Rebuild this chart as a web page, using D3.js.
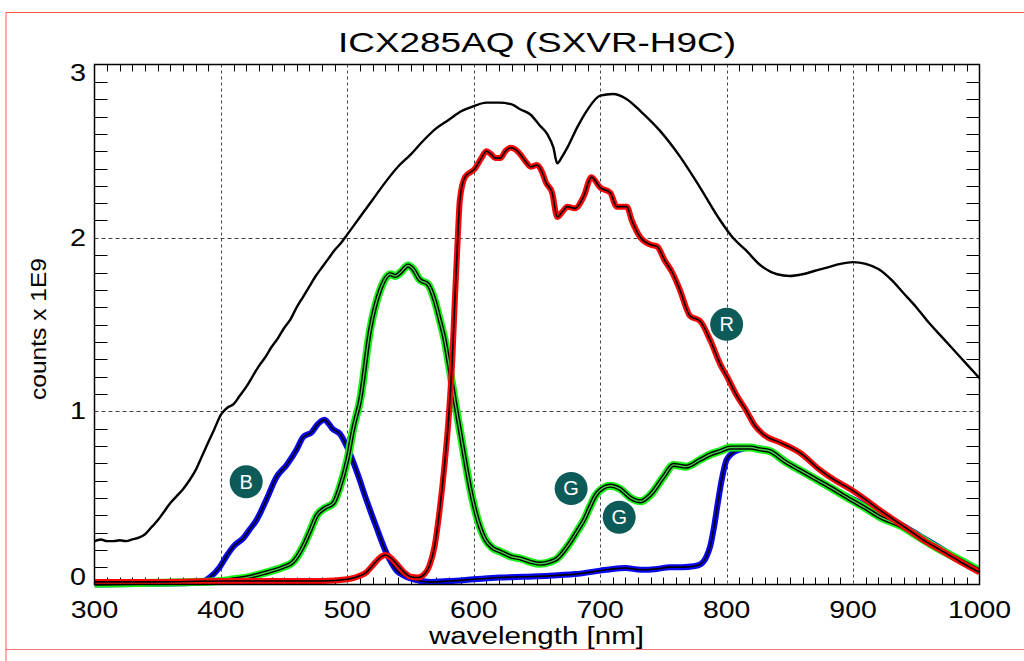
<!DOCTYPE html>
<html><head><meta charset="utf-8">
<script src="https://cdn.jsdelivr.net/npm/d3@7"></script>
<style>body{margin:0;background:#fff}svg{display:block}text{font-family:"Liberation Sans",Arial,sans-serif}</style>
</head><body><svg id="c" width="1024" height="661"></svg>
<script>
const titleText = "ICX285AQ (SXVR-H9C)";
const xTitle = "wavelength [nm]";
const yTitle = "counts x 1E9";
const xTicks = [300,400,500,600,700,800,900,1000];
const yTicks = [0,1,2,3];
const total = [[300,0.25],[305,0.26],[310,0.25],[315,0.25],[320,0.255],[325,0.25],[330,0.26],[335,0.27],[340,0.29],[345,0.33],[350,0.37],[355,0.42],[360,0.47],[365,0.51],[370,0.55],[375,0.60],[380,0.66],[385,0.74],[390,0.82],[395,0.90],[400,0.98],[405,1.02],[410,1.04],[415,1.09],[420,1.14],[425,1.20],[430,1.26],[435,1.31],[440,1.37],[445,1.42],[450,1.48],[455,1.53],[460,1.60],[465,1.66],[470,1.72],[475,1.78],[480,1.83],[485,1.88],[490,1.93],[495,1.97],[500,2.02],[510,2.12],[520,2.22],[530,2.32],[540,2.41],[550,2.48],[560,2.56],[570,2.63],[580,2.68],[590,2.73],[600,2.76],[610,2.78],[620,2.78],[630,2.77],[637,2.74],[645,2.71],[652,2.65],[658,2.60],[663,2.52],[666,2.43],[670,2.47],[674,2.52],[682,2.64],[690,2.74],[700,2.82],[710,2.83],[721,2.80],[732,2.73],[747,2.62],[763,2.47],[779,2.29],[795,2.10],[805,2.00],[815,1.93],[827,1.84],[840,1.79],[850,1.78],[860,1.79],[870,1.81],[880,1.83],[890,1.85],[900,1.86],[910,1.85],[920,1.82],[930,1.76],[940,1.68],[950,1.60],[960,1.51],[970,1.43],[980,1.35],[990,1.27],[1000,1.19]];
const blue = [[300,0.0],[350,0.005],[380,0.01],[385,0.015],[391,0.04],[399,0.10],[405,0.17],[410,0.22],[418,0.27],[423,0.32],[428,0.37],[436,0.49],[444,0.62],[452,0.69],[460,0.78],[465,0.85],[472,0.88],[476,0.92],[482,0.95],[485,0.93],[488,0.90],[494,0.87],[500,0.79],[508,0.64],[515,0.49],[523,0.33],[531,0.18],[539,0.08],[545,0.05],[550,0.035],[558,0.02],[566,0.015],[580,0.02],[600,0.03],[620,0.04],[640,0.045],[660,0.05],[680,0.06],[700,0.08],[710,0.09],[720,0.095],[732,0.085],[745,0.09],[755,0.10],[765,0.10],[774,0.105],[780,0.12],[784,0.16],[787,0.22],[790,0.33],[793,0.47],[796,0.60],[800,0.72],[805,0.76],[811,0.78],[819,0.79],[826,0.785],[834,0.77],[842,0.73],[850,0.69],[862,0.64],[874,0.59],[886,0.54],[898,0.50],[906,0.47],[920,0.41],[937,0.35],[953,0.28],[969,0.21],[985,0.14],[1000,0.08]];
const green = [[300,0.005],[350,0.01],[400,0.02],[410,0.03],[420,0.04],[436,0.07],[449,0.10],[457,0.13],[465,0.22],[470,0.30],[476,0.40],[482,0.44],[489,0.47],[494,0.56],[500,0.72],[505,0.91],[510,1.06],[518,1.47],[526,1.70],[534,1.79],[538,1.78],[542,1.80],[548,1.84],[552,1.82],[557,1.76],[564,1.73],[569,1.64],[573,1.53],[577,1.41],[581,1.24],[585,1.06],[589,0.89],[593,0.72],[597,0.56],[601,0.43],[605,0.33],[609,0.26],[615,0.21],[621,0.19],[630,0.16],[637,0.15],[645,0.13],[652,0.12],[660,0.13],[666,0.15],[671,0.19],[676,0.24],[682,0.31],[687,0.37],[692,0.45],[696,0.51],[703,0.56],[708,0.57],[716,0.55],[724,0.50],[732,0.48],[740,0.52],[750,0.62],[758,0.69],[768,0.68],[779,0.72],[787,0.75],[795,0.77],[803,0.79],[811,0.79],[819,0.79],[826,0.78],[834,0.77],[846,0.71],[858,0.66],[870,0.61],[882,0.56],[898,0.49],[910,0.44],[921,0.39],[937,0.34],[953,0.27],[969,0.20],[985,0.14],[1000,0.08]];
const red = [[300,0.015],[350,0.015],[400,0.02],[450,0.02],[480,0.02],[500,0.03],[510,0.05],[515,0.07],[520,0.11],[525,0.15],[530,0.17],[535,0.15],[540,0.11],[545,0.07],[550,0.045],[556,0.04],[561,0.06],[565,0.11],[569,0.22],[573,0.43],[577,0.70],[580,0.95],[583,1.30],[585,1.64],[587,1.95],[589,2.22],[593,2.35],[601,2.40],[606,2.46],[610,2.50],[614,2.48],[617,2.46],[621,2.46],[625,2.50],[629,2.52],[633,2.51],[637,2.48],[641,2.44],[645,2.41],[650,2.42],[654,2.38],[657,2.32],[662,2.26],[666,2.12],[670,2.15],[674,2.18],[680,2.17],[687,2.24],[693,2.35],[700,2.29],[708,2.26],[713,2.18],[721,2.18],[725,2.10],[732,2.00],[740,1.96],[745,1.95],[751,1.87],[757,1.80],[763,1.70],[771,1.55],[779,1.52],[787,1.41],[795,1.27],[801,1.19],[808,1.09],[815,1.01],[822,0.92],[830,0.86],[842,0.82],[858,0.76],[874,0.66],[886,0.60],[898,0.55],[910,0.49],[921,0.43],[933,0.37],[945,0.31],[957,0.25],[969,0.20],[985,0.13],[1000,0.07]];
const labels = [["B",420,0.593],["G",677,0.554],["G",715,0.388],["R",800,1.501]];

const svg = d3.select("#c");
const L=94.5, R=979.5, T=64.5, B=584.5;
const x = d3.scaleLinear().domain([300,1000]).range([L,R]);
const y = d3.scaleLinear().domain([0,3]).range([B,T]);

// red page frame lines
svg.append("line").attr("x1",6).attr("x2",1024).attr("y1",12.5).attr("y2",12.5).attr("stroke","#f55").attr("stroke-width",1.2);
svg.append("line").attr("x1",5).attr("x2",1024).attr("y1",649.5).attr("y2",649.5).attr("stroke","#f77").attr("stroke-width",1);
svg.append("line").attr("x1",6).attr("x2",6).attr("y1",12).attr("y2",661).attr("stroke","#f77").attr("stroke-width",1.2);

// grid
const gx = [400,500,600,700,800,900];
svg.selectAll(".gv").data(gx).join("line").attr("x1",d=>Math.round(x(d))+0.5).attr("x2",d=>Math.round(x(d))+0.5)
  .attr("y1",T).attr("y2",B).attr("stroke","#444").attr("stroke-dasharray","3,3").attr("stroke-width",1);
svg.selectAll(".gh").data([1,2]).join("line").attr("y1",d=>Math.round(y(d))+0.5).attr("y2",d=>Math.round(y(d))+0.5)
  .attr("x1",L).attr("x2",R).attr("stroke","#444").attr("stroke-dasharray","4,3").attr("stroke-width",1);

// minor ticks
const xm = d3.range(310,1000,10).filter(d=>d%100!==0);
const ym = d3.range(1,30).filter(d=>d%10!==0).map(d=>d/10);
const tk = svg.append("g").attr("stroke","#000").attr("stroke-width",1);
xm.forEach(d=>{
  const px=Math.round(x(d))+0.5;
  tk.append("line").attr("x1",px).attr("x2",px).attr("y1",B).attr("y2",B-7);
  tk.append("line").attr("x1",px).attr("x2",px).attr("y1",T).attr("y2",T+7);
});
ym.forEach(d=>{
  const py=Math.round(y(d))+0.5;
  tk.append("line").attr("x1",L).attr("x2",L+13).attr("y1",py).attr("y2",py);
  tk.append("line").attr("x1",R).attr("x2",R-13).attr("y1",py).attr("y2",py);
});

// curves
svg.append("clipPath").attr("id","pc").append("rect").attr("x",L).attr("y",T-5).attr("width",R-L).attr("height",B-T+10);
const line = d3.line().x(d=>x(d[0])).y(d=>y(d[1])).curve(d3.curveMonotoneX);
const g = svg.append("g").attr("clip-path","url(#pc)");
g.append("path").attr("d",line(total)).attr("fill","none").attr("stroke","#000").attr("stroke-width",2.4).attr("stroke-linejoin","round");
function band(data,col){
  g.append("path").attr("d",line(data)).attr("fill","none").attr("stroke",col).attr("stroke-width",6).attr("stroke-linejoin","round");
  g.append("path").attr("d",line(data)).attr("fill","none").attr("stroke","#000").attr("stroke-width",1.6).attr("stroke-linejoin","round");
}
band(blue,"#0808f0");
g.append("path").attr("d",line(green)).attr("fill","none").attr("stroke","#18f018").attr("stroke-width",8).attr("stroke-linejoin","round");
g.append("path").attr("d",line(green)).attr("fill","none").attr("stroke","#000").attr("stroke-width",4.2).attr("stroke-linejoin","round");
g.append("path").attr("d",line(green)).attr("fill","none").attr("stroke","#44cc44").attr("stroke-width",1.4).attr("stroke-linejoin","round");
band(red,"#f80808");

// frame
svg.append("rect").attr("x",L).attr("y",T).attr("width",R-L).attr("height",B-T).attr("fill","none").attr("stroke","#000").attr("stroke-width",1.5);

// labels
labels.forEach(([t,wl,v])=>{
  svg.append("circle").attr("cx",x(wl)).attr("cy",y(v)).attr("r",16.5).attr("fill","#0d5b59");
  svg.append("text").attr("x",x(wl)).attr("y",y(v)+7).attr("text-anchor","middle").attr("fill","#fff").attr("font-size",20).text(t);
});

// tick labels
xTicks.forEach(d=>{
  const s=String(d);
  svg.append("text").attr("x",x(d)).attr("y",618).attr("text-anchor","middle").attr("font-size",24)
    .attr("textLength",s.length*15.8).attr("lengthAdjust","spacingAndGlyphs").attr("fill","#000").text(s);
});
yTicks.forEach(d=>{
  const by=Math.max(T+16, Math.min(B+0.5, y(d)+8));
  svg.append("text").attr("x",86).attr("y",by).attr("text-anchor","end").attr("font-size",23)
    .attr("textLength",16).attr("lengthAdjust","spacingAndGlyphs").attr("fill","#000").text(String(d));
});

// titles
svg.append("text").attr("x",(L+R)/2).attr("y",52).attr("text-anchor","middle").attr("font-size",28)
  .attr("textLength",398).attr("lengthAdjust","spacingAndGlyphs").text(titleText);
svg.append("text").attr("x",536.5).attr("y",644).attr("text-anchor","middle").attr("font-size",23)
  .attr("textLength",215).attr("lengthAdjust","spacingAndGlyphs").text(xTitle);
svg.append("text").attr("transform","translate(46,329) rotate(-90)").attr("text-anchor","middle").attr("font-size",22)
  .attr("textLength",142).attr("lengthAdjust","spacingAndGlyphs").text(yTitle);
</script></body></html>
